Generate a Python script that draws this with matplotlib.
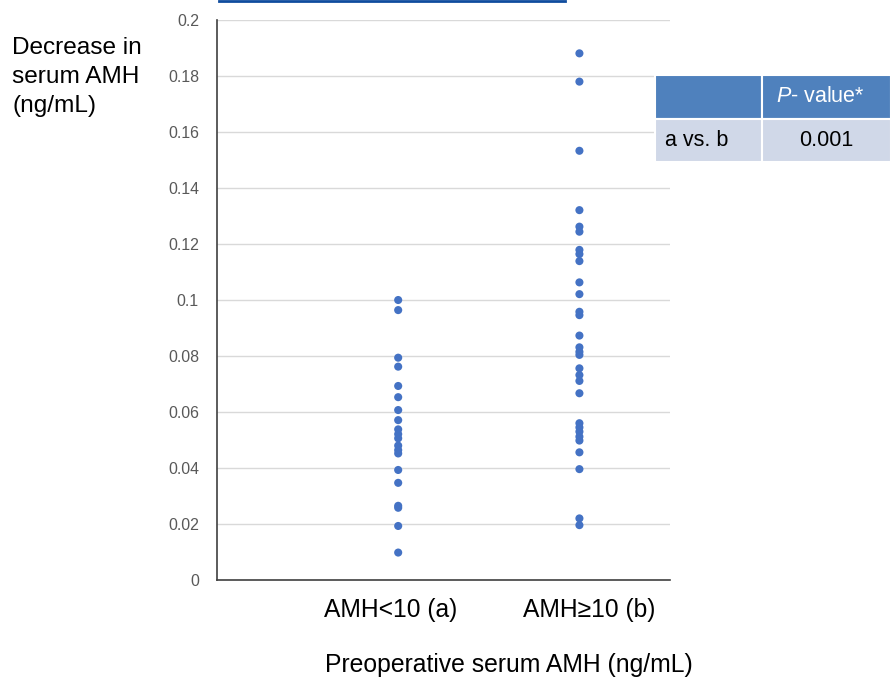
import matplotlib.pyplot as plt
from matplotlib.patches import Rectangle
from matplotlib.ticker import FuncFormatter, MultipleLocator
from matplotlib.lines import Line2D

plt.rcParams['font.family'] = ['Liberation Sans', 'DejaVu Sans']
plt.rcParams['mathtext.fontset'] = 'custom'
plt.rcParams['mathtext.it'] = 'Liberation Sans:italic'
plt.rcParams['mathtext.rm'] = 'Liberation Sans'

# data
categories = ["AMH<10 (a)", "AMH\u226510 (b)"]
group_a = [0.1000, 0.0964, 0.0794, 0.0762, 0.0693, 0.0653, 0.0607, 0.0571,
           0.0538, 0.0521, 0.0506, 0.0480, 0.0464, 0.0452, 0.0393, 0.0347,
           0.0265, 0.0258, 0.0193, 0.0098]
group_b = [0.1881, 0.1780, 0.1533, 0.1321, 0.1262, 0.1244, 0.1179, 0.1164,
           0.1139, 0.1063, 0.1021, 0.0958, 0.0946, 0.0873, 0.0831, 0.0815,
           0.0804, 0.0756, 0.0732, 0.0711, 0.0667, 0.0560, 0.0545, 0.0530,
           0.0512, 0.0498, 0.0456, 0.0396, 0.0220, 0.0196]
table_header = ["", "$\\mathit{P}$- value*"]
table_row = ["a vs. b", "0.001"]

dot_color = "#4472C4"

fig = plt.figure(figsize=(8.91, 6.79), dpi=100)
ax = fig.add_axes([0.2435, 0.1458, 0.5085, 0.8247])

for i, vals in enumerate([group_a, group_b]):
    ax.scatter([i + 1] * len(vals), vals, s=34, color=dot_color,
               edgecolors="none", zorder=3)

ax.set_xlim(0, 2.5)
ax.set_ylim(0, 0.2)
ax.yaxis.set_major_locator(MultipleLocator(0.02))
ax.yaxis.set_major_formatter(FuncFormatter(lambda v, p: f"{round(v, 2):g}"))
ax.grid(axis="y", color="#D9D9D9", linewidth=1)
ax.set_axisbelow(True)
# category labels sit a little off the dot columns in the original
label_shift = [-0.04, 0.055]
ax.set_xticks([i + 1 + d for i, d in enumerate(label_shift)])
ax.set_xticklabels(categories, fontsize=17.7, color="black")
ax.tick_params(axis="y", length=0, pad=13, labelsize=11.4, labelcolor="#595959")
ax.tick_params(axis="x", length=0, pad=13)
for s in ["top", "right"]:
    ax.spines[s].set_visible(False)
ax.spines["left"].set_color("#404040")
ax.spines["bottom"].set_color("#404040")
ax.spines["left"].set_linewidth(1.2)
ax.spines["bottom"].set_linewidth(1.2)

# axis titles
fig.text(12 / 891, 1 - 37 / 679, "Decrease in\nserum AMH\n(ng/mL)", fontsize=17.6,
         ha="left", va="top", linespacing=1.4)
fig.text(509 / 891, 1 - 665 / 679, "Preoperative serum AMH (ng/mL)", fontsize=17.8,
         ha="center", va="center")

# cut-off underline at the very top
fig.add_artist(Line2D([219 / 891, 565 / 891], [1 - 1 / 679, 1 - 1 / 679],
                      transform=fig.transFigure, color="#0F4C9E", linewidth=2))

# p-value table
x0, x1, x2 = 655 / 891, 762 / 891, 1.0
yh0, yh1 = 1 - 119 / 679, 1 - 75 / 679
yb0, yb1 = 1 - 162 / 679, 1 - 119 / 679
for xa, xb in [(x0, x1), (x1, x2)]:
    fig.add_artist(Rectangle((xa, yh0), xb - xa, yh1 - yh0, transform=fig.transFigure,
                             facecolor="#4F81BD", edgecolor="white", linewidth=1.5))
    fig.add_artist(Rectangle((xa, yb0), xb - xa, yb1 - yb0, transform=fig.transFigure,
                             facecolor="#D0D8E8", edgecolor="white", linewidth=1.5))
fig.text((x1 + x2) / 2 - 6 / 891, (yh0 + yh1) / 2, table_header[1], fontsize=15.5,
         color="white", ha="center", va="center")
fig.text(x0 + 10 / 891, (yb0 + yb1) / 2, table_row[0], fontsize=15.5,
         ha="left", va="center")
fig.text((x1 + x2) / 2, (yb0 + yb1) / 2, table_row[1], fontsize=15.5,
         ha="center", va="center")

fig.savefig("out.png", dpi=100)
